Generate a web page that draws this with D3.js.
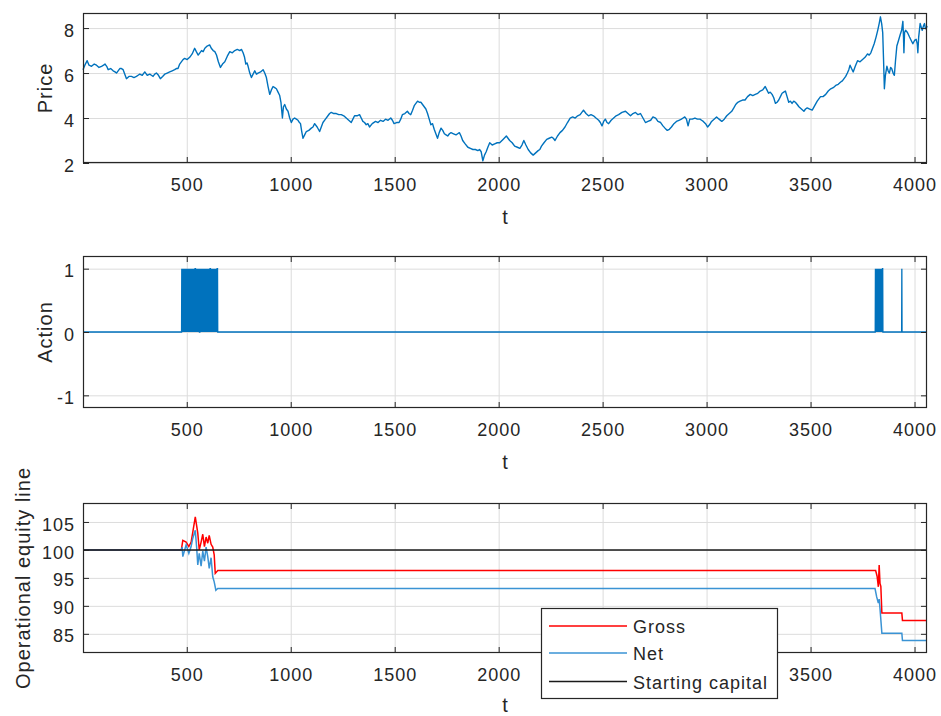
<!DOCTYPE html>
<html><head><meta charset="utf-8">
<script src="https://cdn.jsdelivr.net/npm/d3@7"></script>
<style>
html,body{margin:0;padding:0;background:#fff;}
svg{display:block;}
text{font-family:"Liberation Sans",Arial,Helvetica,sans-serif;fill:#262626;}
</style></head>
<body><svg id="c" width="941" height="716"></svg>
<script>
// ---------- DATA ----------
const xTicks = [500,1000,1500,2000,2500,3000,3500,4000];
const priceTicks = [2,4,6,8];
const actionTicks = [-1,0,1];
const equityTicks = [85,90,95,100,105];
const xDomain = [1,4060];

const priceT = [1,10,21,30,42,55,66,78,90,100,107,115,122,134,146,155,162,170,178,186,194,202,210,222,234,246,258,266,274,286,298,310,322,330,338,346,354,364,373,384,394,406,418,430,442,450,458,466,474,482,490,502,514,526,538,546,555,563,571,579,587,598,610,618,627,635,643,652,662,672,683,695,707,719,731,743,755,763,771,778,784,790,795,803,811,819,827,835,843,855,867,875,883,891,899,907,915,923,931,939,947,953,960,965,971,979,987,995,1003,1011,1019,1027,1035,1042,1047,1053,1059,1067,1075,1087,1099,1107,1115,1127,1139,1147,1155,1167,1179,1187,1195,1207,1219,1231,1243,1255,1267,1279,1291,1299,1307,1319,1331,1339,1347,1355,1363,1371,1379,1392,1408,1420,1432,1444,1456,1468,1481,1489,1497,1509,1521,1529,1537,1549,1561,1569,1577,1586,1594,1602,1610,1618,1626,1634,1642,1650,1658,1666,1674,1682,1690,1698,1706,1714,1723,1731,1739,1747,1755,1763,1771,1783,1795,1803,1811,1819,1827,1839,1852,1864,1876,1888,1900,1908,1916,1924,1932,1940,1948,1957,1969,1981,1993,2005,2021,2037,2045,2053,2065,2077,2090,2102,2112,2121,2131,2142,2154,2166,2178,2190,2198,2206,2218,2231,2243,2255,2263,2271,2283,2295,2307,2319,2331,2344,2356,2368,2380,2392,2400,2408,2420,2432,2444,2456,2468,2481,2489,2497,2505,2513,2521,2529,2541,2553,2565,2577,2593,2610,2622,2634,2646,2658,2670,2682,2694,2706,2718,2731,2742,2755,2766,2779,2790,2800,2811,2821,2831,2843,2855,2867,2879,2887,2895,2903,2911,2919,2931,2944,2956,2968,2976,2984,2995,3005,3014,3024,3036,3048,3060,3073,3085,3097,3109,3121,3131,3140,3150,3161,3173,3185,3197,3210,3222,3234,3246,3258,3270,3282,3290,3298,3306,3315,3323,3331,3339,3347,3355,3363,3371,3379,3387,3395,3403,3411,3419,3427,3436,3444,3456,3468,3476,3484,3496,3508,3520,3532,3540,3548,3560,3573,3585,3597,3609,3621,3633,3645,3653,3661,3669,3677,3684,3690,3697,3705,3715,3726,3738,3750,3762,3774,3782,3790,3798,3806,3815,3823,3830,3836,3842,3847,3851,3855,3860,3867,3873,3879,3885,3890,3897,3903,3909,3915,3923,3931,3938,3944,3947,3949,3952,3957,3966,3976,3984,3992,4000,4008,4013,4016,4020,4027,4032,4037,4043,4048,4052,4056,4060];
const priceV = [6.15,6.35,6.55,6.35,6.3,6.4,6.35,6.25,6.3,6.35,6.4,6.3,6.15,6.2,6.1,6.05,6.0,6.1,6.2,6.2,6.15,5.95,5.75,5.85,5.85,5.8,5.85,5.9,5.95,5.9,6.05,5.9,5.95,5.9,5.85,5.95,6.0,5.9,5.75,5.85,5.95,6.0,6.05,6.1,6.15,6.2,6.2,6.4,6.5,6.6,6.65,6.6,6.7,6.85,7.1,6.95,6.8,6.9,7.0,6.95,7.1,7.2,7.25,7.1,7.0,6.95,6.8,6.5,6.25,6.4,6.5,6.75,6.95,6.9,7.0,7.05,7.0,7.05,6.9,6.7,6.4,6.45,6.3,6.0,5.8,5.95,6.1,5.95,6.0,6.05,6.15,6.0,5.8,5.4,5.05,5.25,5.4,5.35,5.3,5.15,5.0,4.7,4.0,4.5,4.6,4.4,4.3,4.0,3.8,3.95,4.0,3.95,3.9,3.8,3.75,3.4,3.1,3.25,3.4,3.45,3.55,3.6,3.75,3.6,3.4,3.6,3.8,3.95,4.1,4.2,4.25,4.2,4.2,4.15,4.15,4.1,4.0,3.9,3.8,3.95,4.1,4.1,4.15,4.0,3.85,3.8,3.7,3.75,3.6,3.75,3.85,3.8,3.9,3.85,3.95,3.9,4.0,3.9,3.75,3.8,3.8,3.95,4.15,4.2,4.3,4.2,4.15,4.35,4.55,4.65,4.75,4.7,4.7,4.6,4.5,4.4,4.2,3.95,3.7,3.75,3.5,3.3,3.1,3.35,3.55,3.45,3.3,3.25,3.2,3.3,3.35,3.3,3.25,3.3,3.35,3.2,3.0,2.85,2.7,2.65,2.6,2.6,2.55,2.6,2.5,2.1,2.35,2.5,2.7,2.9,2.8,2.85,2.9,2.9,3.05,3.2,3.1,3.0,2.9,2.75,2.7,2.65,2.8,3.0,2.8,2.6,2.45,2.35,2.45,2.55,2.6,2.75,2.9,3.05,3.1,3.15,3.1,3.0,3.2,3.35,3.45,3.6,3.8,4.0,4.05,4.0,4.1,4.15,4.25,4.35,4.2,4.1,4.15,4.1,4.0,3.9,3.8,3.65,3.85,3.95,3.8,3.75,3.9,4.0,4.1,4.15,4.25,4.3,4.2,4.1,4.2,4.25,4.15,4.2,4.0,3.8,3.85,3.9,4.05,4.0,3.85,3.8,3.65,3.55,3.45,3.5,3.6,3.75,3.85,3.9,3.95,4.0,4.05,3.95,3.65,3.95,3.95,4.0,3.95,3.95,3.9,3.85,3.75,3.6,3.7,3.85,3.95,4.05,3.95,3.85,3.95,4.1,4.2,4.3,4.45,4.6,4.7,4.75,4.8,4.8,4.95,5.05,5.0,5.05,5.1,5.2,5.25,5.4,5.25,5.1,5.15,5.05,4.9,4.65,4.7,4.8,4.95,5.1,5.15,5.2,4.95,4.7,4.75,4.65,4.75,4.7,4.6,4.5,4.4,4.3,4.4,4.45,4.4,4.35,4.55,4.75,4.85,4.95,4.95,5.05,5.2,5.3,5.35,5.45,5.5,5.6,5.65,5.75,5.85,6.0,6.15,6.35,6.2,6.05,6.3,6.55,6.5,6.6,6.7,6.85,6.8,6.9,7.1,7.3,7.6,7.9,8.2,8.5,8.2,7.8,6.6,5.3,5.9,6.3,6.1,6.0,6.25,6.2,6.0,5.9,6.6,7.2,7.45,7.7,7.9,8.3,7.6,6.9,7.8,7.9,7.8,7.6,7.45,7.3,7.45,7.5,7.3,6.9,7.6,8.2,8.05,7.9,8.1,8.2,8.0,7.95,8.1];

// Action is 0 everywhere except in these windows, given step by step (one character per t)
const actionBlockStart = [476, 3812, 3939];
const actionBlockSteps = [
  "1010101010101010101010101010101010101010101010101010101010101010" +
  "111" + "010101010101010101" + "000" +
  "101010101010101010101010101010101010101010101010" +
  "111" + "01010101010101010101010101010101" + "11",
  "101010101010101010101010101010101011",
  "1"
];

const grossT = [1,474,481,497,510,521,529,541,553,560,569,577,585,593,601,608,617,625,632,637,649,3813,3820,3826,3830,3834,3838,3843,3939,3942,4060];
const grossV = [100,100,101.7,101.4,100.6,101.4,103.2,105.9,103,100,101.4,102.8,100.6,102.3,101.2,102.6,101,100.5,99.1,95.8,96.3,96.3,95.3,93.4,97.3,94,93.5,88.7,88.7,87.4,87.4];
const netT = [1,474,478,481,497,510,521,529,541,548,553,560,569,577,585,593,601,608,617,625,632,640,649,3810,3818,3826,3830,3834,3843,3939,3942,4060];
const netV = [100,100,100.5,98.8,100.9,99.4,100.6,102.1,103.5,100.2,97.3,99.4,97.1,99.8,98,100.5,98.8,96.7,98.6,95.2,94.3,92.8,93.1,93.1,91.6,90.5,91.2,89.5,85.1,85.1,83.8,83.8];
const startCapital = 100;
const legendLabels = ["Gross","Net","Starting capital"];

// ---------- DRAW ----------
const svg = d3.select("#c");
svg.append("rect").attr("width",941).attr("height",716).attr("fill","#fff");
const L = 83, R = 927;
const x = d3.scaleLinear().domain(xDomain).range([L,R]);
const BLUE = "#0072BD", RED = "#FF0000", NETBLUE = "#3a93d4";
const AX = "#262626";
const fmt = d => d < 0 ? "-" + Math.abs(d) : String(d);
const legendBox = {x:541, y:608, w:236, h:90};

function panel(top, bottom, yDomain, yTicks, ylabel, ylabX) {
  const g = svg.append("g");
  const y = d3.scaleLinear().domain(yDomain).range([bottom, top]);
  const h = bottom - top;
  const gx = g.append("g").attr("transform",`translate(0,${bottom})`)
    .call(d3.axisBottom(x).tickValues(xTicks).tickSize(-h).tickFormat(""));
  const gy = g.append("g").attr("transform",`translate(${L},0)`)
    .call(d3.axisLeft(y).tickValues(yTicks).tickSize(-(R-L)).tickFormat(""));
  [gx,gy].forEach(a=>{a.select(".domain").remove(); a.selectAll("line").attr("stroke","#dcdcdc").attr("stroke-width",1);});
  const data = g.append("g");
  const axes = g.append("g");
  return {g, y, data, axes, top, bottom, ylabel, ylabX, yTicks};
}
function finish(p, hideUnderLegend) {
  const {axes, y, top, bottom, yTicks} = p;
  const bx = axes.append("g").attr("transform",`translate(0,${bottom})`)
    .call(d3.axisBottom(x).tickValues(xTicks).tickSize(-6).tickPadding(15).tickFormat(fmt));
  const tx = axes.append("g").attr("transform",`translate(0,${top})`)
    .call(d3.axisTop(x).tickValues(xTicks).tickSize(-6).tickFormat(""));
  const ly = axes.append("g").attr("transform",`translate(${L},0)`)
    .call(d3.axisLeft(y).tickValues(yTicks).tickSize(-6).tickPadding(8).tickFormat(fmt));
  const ry = axes.append("g").attr("transform",`translate(${R},0)`)
    .call(d3.axisRight(y).tickValues(yTicks).tickSize(-6).tickFormat(""));
  [bx,tx,ly,ry].forEach(a=>{a.select(".domain").remove(); a.selectAll("line").attr("stroke",AX).attr("stroke-width",1);
    a.selectAll("text").attr("font-size",18).attr("letter-spacing","1px").attr("fill",AX)
     .style("font-family",'"Liberation Sans",Arial,sans-serif');});
  ly.selectAll("text").attr("dy","0.45em");
  if (hideUnderLegend) {
    bx.selectAll(".tick").filter(d => x(d) - 25 > legendBox.x && x(d) + 25 < legendBox.x + legendBox.w)
      .select("text").remove();
  }
  axes.append("rect").attr("x",L+0.5).attr("y",top+0.5).attr("width",R-L-1).attr("height",bottom-top-1)
    .attr("fill","none").attr("stroke",AX).attr("stroke-width",1.2);
  axes.append("text").attr("x",(L+R)/2).attr("y",Math.min(bottom+61, 712)).attr("text-anchor","middle")
    .attr("font-size",20).text("t");
  axes.append("text").attr("transform",`translate(${p.ylabX},${(top+bottom)/2}) rotate(-90)`)
    .attr("text-anchor","middle").attr("font-size",20).attr("letter-spacing","1px").text(p.ylabel);
}

// Panel 1: price
const p1 = panel(13,163,[2,8.67],priceTicks,"Price",52);
const priceData = priceT.map((t,i)=>[t,priceV[i]]);
p1.data.append("path").datum(priceData)
  .attr("d",d3.line().x(d=>x(d[0])).y(d=>p1.y(d[1])))
  .attr("fill","none").attr("stroke",BLUE).attr("stroke-width",1.4).attr("stroke-linejoin","round");
finish(p1);

// Panel 2: action
const p2 = panel(256,408,[-1.2,1.2],actionTicks,"Action",52);
const actionData = [[xDomain[0],0]];
actionBlockStart.forEach((s,i)=>{
  const steps = actionBlockSteps[i];
  actionData.push([s-1,0]);
  for (let k=0;k<steps.length;k++) actionData.push([s+k, +steps[k]]);
  actionData.push([s+steps.length,0]);
});
actionData.push([xDomain[1],0]);
p2.data.append("path").datum(actionData)
  .attr("d",d3.line().x(d=>x(d[0])).y(d=>p2.y(d[1])))
  .attr("fill","none").attr("stroke",BLUE).attr("stroke-width",1.3);
finish(p2);

// Panel 3: equity
const p3 = panel(503,653,[81.57,108.39],equityTicks,"Operational equity line",30);
const ln3 = d3.line().x(d=>x(d[0])).y(d=>p3.y(d[1]));
p3.data.append("path").datum(grossT.map((t,i)=>[t,grossV[i]])).attr("d",ln3)
  .attr("fill","none").attr("stroke",RED).attr("stroke-width",1.5);
p3.data.append("path").datum(netT.map((t,i)=>[t,netV[i]])).attr("d",ln3)
  .attr("fill","none").attr("stroke",NETBLUE).attr("stroke-width",1.5);
p3.data.append("path").datum([[xDomain[0],startCapital],[xDomain[1],startCapital]]).attr("d",ln3)
  .attr("fill","none").attr("stroke","#1a1a1a").attr("stroke-width",1.5);
finish(p3, true);

// Legend
const lg = svg.append("g");
lg.append("rect").attr("x",legendBox.x+0.5).attr("y",legendBox.y+0.5).attr("width",legendBox.w).attr("height",legendBox.h)
  .attr("fill","#fff").attr("stroke",AX).attr("stroke-width",1.2);
const legColors = [RED,NETBLUE,"#1a1a1a"];
const rowY = [626,653,681.5];
legendLabels.forEach((lab,i)=>{
  lg.append("line").attr("x1",549).attr("x2",627).attr("y1",rowY[i]).attr("y2",rowY[i])
    .attr("stroke",legColors[i]).attr("stroke-width",1.5);
  lg.append("text").attr("x",633).attr("y",rowY[i]+7).attr("font-size",18)
    .attr("letter-spacing","1px").text(lab);
});
</script></body></html>
